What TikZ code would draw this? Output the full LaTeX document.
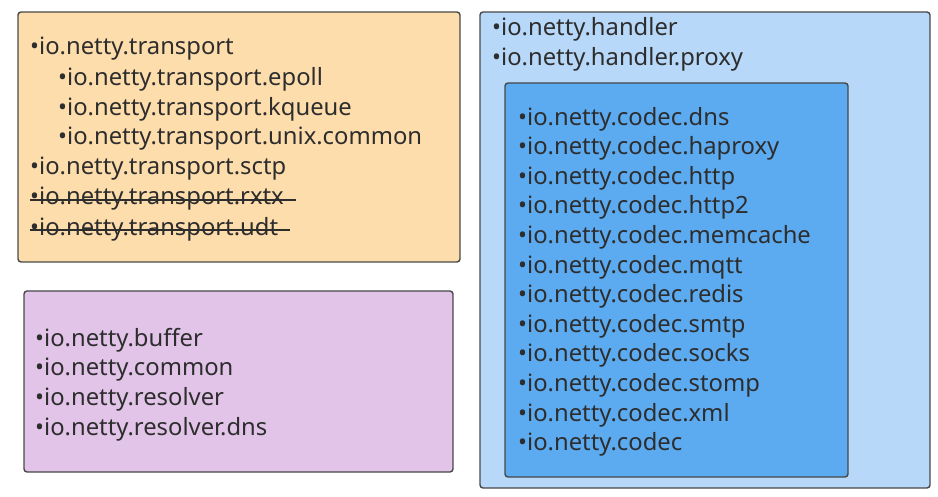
\documentclass[tikz,border=0pt]{standalone}
\usepackage{fontspec}
\setmainfont{Noto Sans}
\usepackage{tikz}
\definecolor{peach}{RGB}{253,221,172}
\definecolor{lilac}{RGB}{226,196,233}
\definecolor{skyblue}{RGB}{183,216,248}
\definecolor{codecblue}{RGB}{92,171,240}
\definecolor{boxline}{RGB}{72,72,72}
\definecolor{pkgtext}{RGB}{45,45,45}

\begin{document}
\begin{tikzpicture}[x=1pt,y=-1pt]
    \tikzstyle{pkgbox}=[draw=boxline,line width=1.4pt,rounded corners=3pt]
    \tikzstyle{pkg}=[anchor=west,inner sep=0pt,yshift=-2pt,text=pkgtext,font=\fontsize{23.8}{28}\selectfont]
    \tikzstyle{strike}=[draw=pkgtext,line width=1.4pt]

    \useasboundingbox (0,0) rectangle (938,497);

    % Draw the boxes
    \draw[pkgbox,fill=peach] (18,12) rectangle (460,262);
    \draw[pkgbox,fill=lilac] (24,291) rectangle (453,472);
    \draw[pkgbox,fill=skyblue] (480,12) rectangle (930,488);
    \draw[pkgbox,fill=codecblue] (505,83) rectangle (848,477);

    % Transport packages
    \foreach \name/\x/\y/\txt in {1/30/47/transport,2/58/77/transport.epoll,
        3/58/107/transport.kqueue,4/58/137/transport.unix.common,
        5/30/167/transport.sctp,6/30/197/transport.rxtx,7/30/227/transport.udt}
        \node[pkg] (T-\name) at (\x,\y) {•io.netty.\txt};

    % rxtx and udt are crossed out
    \draw[strike] ([yshift=-1pt]T-6.west) -- ([xshift=12pt,yshift=-1pt]T-6.east);
    \draw[strike] ([yshift=-1pt]T-7.west) -- ([xshift=12pt,yshift=-1pt]T-7.east);

    % Common packages
    \foreach \name/\y/\txt in {1/338/buffer,2/368/common,3/397/resolver,4/427/resolver.dns}
        \node[pkg] (C-\name) at (35,\y) {•io.netty.\txt};

    % Handler packages
    \foreach \name/\y/\txt in {1/27/handler,2/57/handler.proxy}
        \node[pkg] (H-\name) at (492,\y) {•io.netty.\txt};

    % Codec packages
    \foreach \name/\txt in {1/codec.dns,2/codec.haproxy,3/codec.http,
        4/codec.http2,5/codec.memcache,6/codec.mqtt,7/codec.redis,8/codec.smtp,
        9/codec.socks,10/codec.stomp,11/codec.xml,12/codec}
        \node[pkg] (D-\name) at (518,117+29.6*\name-29.6) {•io.netty.\txt};

\end{tikzpicture}
\end{document}
